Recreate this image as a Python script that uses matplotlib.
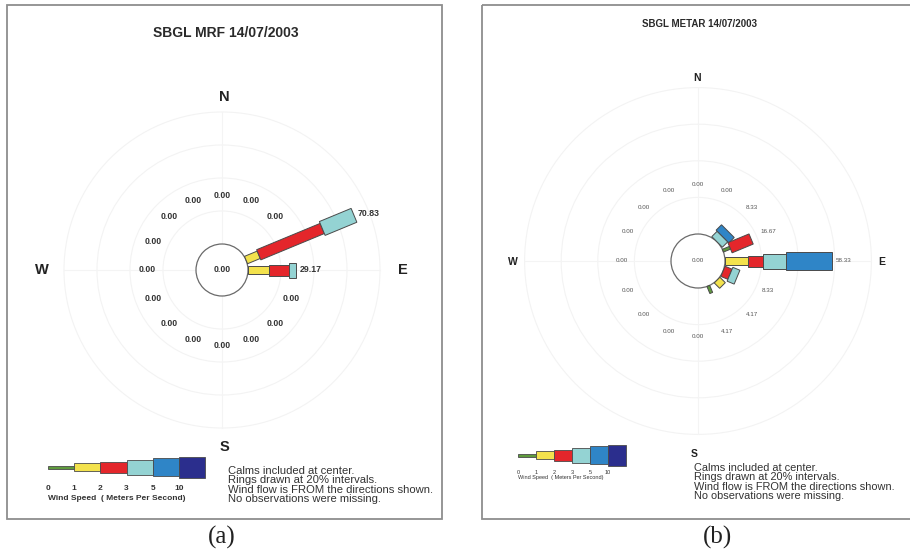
import numpy as np
import matplotlib
matplotlib.use("Agg")
import matplotlib.pyplot as plt
from matplotlib.patches import Polygon, Circle, Rectangle

plt.rcParams['font.family'] = ['Liberation Sans', 'DejaVu Sans']

W_PX, H_PX = 910, 552

directions = ["N", "NNE", "NE", "ENE", "E", "ESE", "SE", "SSE",
              "S", "SSW", "SW", "WSW", "W", "WNW", "NW", "NNW"]
speed_ticks = ["0", "1", "2", "3", "5", "10"]
speed_colors = ["#5f9b3d", "#f3e24d", "#e4262b", "#94d3d3", "#2f85c7", "#2b2e8d"]
n_obs = 24

# hourly observation counts by direction, one list per speed class (m/s)
mrf_0_1 = [0, 0, 0, 0, 0, 0, 0, 0, 0, 0, 0, 0, 0, 0, 0, 0]
mrf_1_2 = [0, 0, 0, 2, 3, 0, 0, 0, 0, 0, 0, 0, 0, 0, 0, 0]
mrf_2_3 = [0, 0, 0, 10, 3, 0, 0, 0, 0, 0, 0, 0, 0, 0, 0, 0]
mrf_3_5 = [0, 0, 0, 5, 1, 0, 0, 0, 0, 0, 0, 0, 0, 0, 0, 0]
mrf_5_10 = [0, 0, 0, 0, 0, 0, 0, 0, 0, 0, 0, 0, 0, 0, 0, 0]
mrf_10up = [0, 0, 0, 0, 0, 0, 0, 0, 0, 0, 0, 0, 0, 0, 0, 0]
mrf_calm = 0

metar_0_1 = [0, 0, 0, 1, 0, 0, 0, 1, 0, 0, 0, 0, 0, 0, 0, 0]
metar_1_2 = [0, 0, 0, 0, 3, 0, 1, 0, 0, 0, 0, 0, 0, 0, 0, 0]
metar_2_3 = [0, 0, 0, 3, 2, 1, 0, 0, 0, 0, 0, 0, 0, 0, 0, 0]
metar_3_5 = [0, 0, 1, 0, 3, 1, 0, 0, 0, 0, 0, 0, 0, 0, 0, 0]
metar_5_10 = [0, 0, 1, 0, 6, 0, 0, 0, 0, 0, 0, 0, 0, 0, 0, 0]
metar_10up = [0, 0, 0, 0, 0, 0, 0, 0, 0, 0, 0, 0, 0, 0, 0, 0]
metar_calm = 0

notes = ["Calms included at center.",
         "Rings drawn at 20% intervals.",
         "Wind flow is FROM the directions shown.",
         "No observations were missing."]

# bar thickness in pixels for each speed class
BAR_W = [3, 8, 11, 15, 18, 21]

fig = plt.figure(figsize=(W_PX / 100, H_PX / 100), dpi=100)
fig.patch.set_facecolor("white")

# overlay axes in pixel units for frames, legends and notes
ov = fig.add_axes([0, 0, 1, 1])
ov.set_xlim(0, W_PX)
ov.set_ylim(H_PX, 0)
ov.axis("off")


def frame(x0, y0, x1, y1):
    ov.add_patch(Rectangle((x0, y0), x1 - x0, y1 - y0, fill=False,
                           edgecolor="#8e8e8e", lw=1.3, zorder=1))


def draw_rose(cx, cy, scale, calm_px, lab_px, counts, calm, lab_fs, lab_w,
              lab_c, compass, comp_fs):
    R = 200
    ax = fig.add_axes([(cx - R) / W_PX, 1 - (cy + R) / H_PX,
                       2 * R / W_PX, 2 * R / H_PX])
    lim = R / scale
    ax.set_xlim(-lim, lim)
    ax.set_ylim(-lim, lim)
    ax.axis("off")
    ax.patch.set_alpha(0)

    pct = np.array(counts, dtype=float) / n_obs * 100.0
    calm_pct = calm / n_obs * 100.0
    r_calm = calm_px / scale

    # rings at 20% intervals and faint cross hairs
    for k in range(1, 5):
        ax.add_patch(Circle((0, 0), r_calm + 20 * k, fill=False,
                            edgecolor="#f3f3f3", lw=0.8, zorder=1))
    span = r_calm + 80
    ax.plot([-span, span], [0, 0], color="#f4f4f4", lw=0.8, zorder=1)
    ax.plot([0, 0], [-span, span], color="#f4f4f4", lw=0.8, zorder=1)
    ax.add_patch(Circle((0, 0), r_calm, facecolor="white",
                        edgecolor="#6a6a6a", lw=0.9, zorder=3))
    ax.text(0, 0, f"{calm_pct:.2f}", ha="center", va="center",
            fontsize=lab_fs, fontweight=lab_w, color=lab_c, zorder=5)

    for i, name in enumerate(directions):
        th = np.deg2rad(22.5 * i)
        u = np.array([np.sin(th), np.cos(th)])
        nrm = np.array([np.cos(th), -np.sin(th)])
        r0 = r_calm
        for k in range(len(speed_ticks)):
            L = pct[k][i]
            if L <= 0:
                continue
            hw = BAR_W[k] / 2 / scale
            pts = [r0 * u + hw * nrm, (r0 + L) * u + hw * nrm,
                   (r0 + L) * u - hw * nrm, r0 * u - hw * nrm]
            ax.add_patch(Polygon(pts, closed=True, facecolor=speed_colors[k],
                                 edgecolor="#4a4a4a", lw=0.7, zorder=4))
            r0 += L
        total = pct[:, i].sum()
        r_lab = lab_px / scale
        if total > 0 and r0 > r_lab - 12 / scale:
            p = (r0 + 4 / scale) * u
            ha = "left" if u[0] > 0.3 else ("right" if u[0] < -0.3 else "center")
        else:
            p = r_lab * u
            ha = "center"
        ax.text(p[0], p[1], f"{total:.2f}", ha=ha, va="center",
                fontsize=lab_fs, fontweight=lab_w, color=lab_c, zorder=5)

    # compass letters, offsets in pixels from the centre
    for letter, (dx, dy) in compass.items():
        ax.text(dx / scale, -dy / scale, letter, ha="center", va="center",
                fontsize=comp_fs, fontweight="bold", color="#222222")


def legend(x0, seg, cy, lab_y, lab_fs, lab_w, cap_y, cap):
    for k, col in enumerate(speed_colors):
        h = BAR_W[k]
        ov.add_patch(Rectangle((x0 + k * seg, cy - h / 2), seg, h,
                               facecolor=col, edgecolor="#4a4a4a", lw=0.6,
                               zorder=3))
        ov.text(x0 + k * seg, lab_y, speed_ticks[k], ha="center", va="center",
                fontsize=lab_fs, fontweight=lab_w, color="#333333")
    ov.text(x0, cap_y, cap, ha="left", va="center", fontsize=lab_fs,
            fontweight=lab_w, color="#333333")


# panel (a)
frame(7, 5, 442, 519)
ov.text(226, 33, "SBGL MRF 14/07/2003", ha="center", va="center",
        fontsize=10, fontweight="bold", color="#2a2a2a")
mrf = [mrf_0_1, mrf_1_2, mrf_2_3, mrf_3_5, mrf_5_10, mrf_10up]
draw_rose(222, 270, 1.65, 26, 75, mrf, mrf_calm, 6.3, "bold", "#333333",
          {"N": (2, -173), "S": (2, 177), "W": (-180, 0), "E": (181, 0)}, 10.5)
legend(48, 26.2, 467, 489, 6, "bold", 498, "Wind Speed  ( Meters Per Second)")
for j, line in enumerate(notes):
    ov.text(228, 471 + j * 9.4, line, ha="left", va="center", fontsize=8.1,
            color="#333333")
ov.text(222, 537, "(a)", ha="center", va="center", fontsize=18,
        family="Liberation Serif", color="#222222")

# panel (b)
frame(482, 5, 912, 519)
ov.text(700, 24, "SBGL METAR 14/07/2003", ha="center", va="center",
        fontsize=7, fontweight="bold", color="#2a2a2a")
metar = [metar_0_1, metar_1_2, metar_2_3, metar_3_5, metar_5_10, metar_10up]
draw_rose(698, 261, 1.83, 27, 76, metar, metar_calm, 4.5, "normal", "#555555",
          {"N": (-1, -183), "S": (-4, 193), "W": (-185, 1), "E": (184, 1)}, 7.5)
legend(518, 18.0, 455, 473, 4, "normal", 478, "Wind Speed  ( Meters Per Second)")
for j, line in enumerate(notes):
    ov.text(694, 468 + j * 9.4, line, ha="left", va="center", fontsize=7.9,
            color="#333333")
ov.text(718, 537, "(b)", ha="center", va="center", fontsize=18,
        family="Liberation Serif", color="#222222")

fig.savefig("out.png", dpi=100)
